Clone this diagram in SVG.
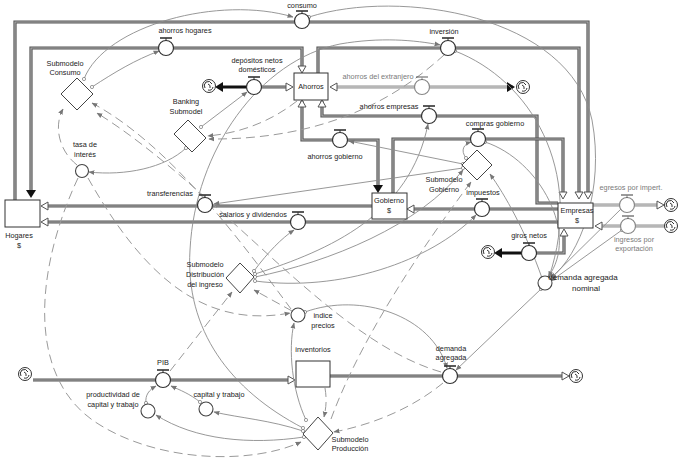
<svg xmlns="http://www.w3.org/2000/svg" xmlns:xlink="http://www.w3.org/1999/xlink" width="680" height="465" viewBox="0 0 680 465">
<style>
.t{font-family:"Liberation Sans",Arial,sans-serif;font-size:7.3px;fill:#222;text-anchor:middle}
.tg{font-family:"Liberation Sans",Arial,sans-serif;font-size:7.3px;fill:#7a7a7a;text-anchor:middle}
.tb{font-family:"Liberation Sans",Arial,sans-serif;font-size:8px;fill:#222;text-anchor:middle}
.po{fill:none;stroke:#555;stroke-width:3.2}
.pi{fill:none;stroke:#b0b0b0;stroke-width:1.1}
.gpo{fill:none;stroke:#8f8f8f;stroke-width:3}
.gpi{fill:none;stroke:#dedede;stroke-width:1}
.blk{fill:none;stroke:#111;stroke-width:3}
.box{fill:#fff;stroke:#333;stroke-width:1}
.valve{fill:#fff;stroke:#333;stroke-width:1.2}
.gvalve{fill:#fff;stroke:#888;stroke-width:1.2}
.aux{fill:#fff;stroke:#444;stroke-width:1.1}
.dia{fill:#fff;stroke:#444;stroke-width:1}
.ha{fill:#fff;stroke:#555;stroke-width:1}
.ba{fill:#111;stroke:none}
.c{fill:none;stroke:#8c8c8c;stroke-width:0.9;marker-end:url(#arr);marker-start:url(#tail)}
.d{fill:none;stroke:#9a9a9a;stroke-width:1;stroke-dasharray:9 5;marker-end:url(#arr)}
.hnd{stroke:#333;stroke-width:1.6}
.hnds{stroke:#333;stroke-width:1}
</style>
<defs>
<marker id="arr" viewBox="0 0 10 10" refX="9" refY="5" markerWidth="6" markerHeight="6" orient="auto" markerUnits="userSpaceOnUse">
<path d="M0,1 L10,5 L0,9 Z" fill="#777"/>
</marker>
<marker id="tail" viewBox="0 0 10 10" refX="5" refY="5" markerWidth="4.5" markerHeight="4.5" markerUnits="userSpaceOnUse">
<circle cx="5" cy="5" r="3.6" fill="#fff" stroke="#777" stroke-width="1.6"/>
</marker>
<path id="ha" d="M0,0 L-7,-4 L-7,4 Z"/>
<path id="ba" d="M0,0 L-8,-5 L-8,5 Z"/>
<g id="cloud">
<circle r="6.5" fill="#fff" stroke="#333" stroke-width="1"/>
<path d="M-3,-4 Q1,-6 3,-2 M4,1 Q3,5 -1,4 M-4,2 Q-6,-1 -3,-4 M-1,-2 Q2,-1 1,2" fill="none" stroke="#333" stroke-width="1"/>
</g>
<g id="hdl">
<line x1="-6" y1="-10" x2="6" y2="-10" class="hnd"/>
<line x1="0" y1="-10" x2="0" y2="-7" class="hnds"/>
</g>
</defs>
<rect width="680" height="465" fill="#fff"/>

<g id="pipes">
<path class="po" d="M15,200 V22 H588 V197"/><path class="pi" d="M15,200 V22 H588 V197"/>
<path class="po" d="M31,192 V48 H302 V71"/><path class="pi" d="M31,192 V48 H302 V71"/>
<path class="po" d="M318,73 V48 H579 V197"/><path class="pi" d="M318,73 V48 H579 V197"/>
<path class="po" d="M558,203 H537 V116 H322 V101"/><path class="pi" d="M558,203 H537 V116 H322 V101"/>
<path class="po" d="M378,188 V140 H302 V101"/><path class="pi" d="M378,188 V140 H302 V101"/>
<path class="po" d="M393,193 V139 H563 V197"/><path class="pi" d="M393,193 V139 H563 V197"/>
<path class="po" d="M247,87 H291"/><path class="pi" d="M247,87 H291"/>
<path class="blk" d="M218,87 H247"/>
<path class="gpo" d="M333,87 H513"/><path class="gpi" d="M333,87 H513"/>
<path class="po" d="M372,206 H43"/><path class="pi" d="M372,206 H43"/>
<path class="po" d="M558,222 H43"/><path class="pi" d="M558,222 H43"/>
<path class="po" d="M558,209 H409"/><path class="pi" d="M558,209 H409"/>
<path class="po" d="M564,231 V253 H530"/><path class="pi" d="M564,231 V253 H530"/>
<path class="blk" d="M530,253 H497"/>
<path class="gpo" d="M593,205 H662"/><path class="gpi" d="M593,205 H662"/>
<path class="gpo" d="M671,226 H597"/><path class="gpi" d="M671,226 H597"/>
<path class="po" d="M33,380 H293"/><path class="pi" d="M33,380 H293"/>
<path class="po" d="M330,376 H567"/><path class="pi" d="M330,376 H567"/>
<use href="#ha" class="ha" transform="translate(588,199) rotate(90)"/>
<use href="#ha" class="ha" transform="translate(579,199) rotate(90)"/>
<use href="#ha" class="ha" transform="translate(563,199) rotate(90)"/>
<use href="#ha" class="ha" transform="translate(302,73) rotate(90)"/>
<use href="#ha" class="ha" transform="translate(293,87)"/>
<use href="#ha" class="ha" transform="translate(330,87) rotate(180)"/>
<use href="#ha" class="ha" transform="translate(302,100) rotate(-90)"/>
<use href="#ha" class="ha" transform="translate(322,100) rotate(-90)"/>
<use href="#ha" class="ha" transform="translate(41,206) rotate(180)"/>
<use href="#ha" class="ha" transform="translate(41,222) rotate(180)"/>
<use href="#ha" class="ha" transform="translate(407,209) rotate(180)"/>
<use href="#ha" class="ha" transform="translate(564,229) rotate(-90)"/>
<use href="#ha" class="ha" transform="translate(664,205)"/>
<use href="#ha" class="ha" transform="translate(595,226) rotate(180)"/>
<use href="#ha" class="ha" transform="translate(295,380)"/>
<use href="#ha" class="ha" transform="translate(569,376)"/>
<use href="#ba" class="ba" transform="translate(31,198) rotate(90)"/>
<use href="#ba" class="ba" transform="translate(378,193) rotate(90)"/>
<use href="#ba" class="ba" transform="translate(215,87) rotate(180)"/>
<use href="#ba" class="ba" transform="translate(515,87)"/>
<use href="#ba" class="ba" transform="translate(494,253) rotate(180)"/>
</g>

<g id="connectors">
<path class="c" d="M84,79 C105,25 220,-5 293,17"/>
<path class="c" d="M92,87 C115,72 135,60 159,51"/>
<path class="c" d="M309,17 C400,-12 570,15 592,120 C605,190 580,255 551,278"/>
<path class="c" d="M455,51 C530,80 585,170 549,277"/>
<path class="c" d="M485,142 C540,160 580,235 548,277"/>
<path class="c" d="M622,208 L550,279"/>
<path class="c" d="M622,230 L551,281"/>
<path class="c" d="M541,289 L456,370"/>
<path class="c" d="M542,278 C525,230 505,195 490,174"/>
<path class="c" d="M466,158 C460,150 464,144 471,142"/>
<path class="c" d="M463,164 L349,141"/>
<path class="c" d="M463,168 L214,204"/>
<path class="c" d="M254,271 C268,252 282,238 294,230"/>
<path class="c" d="M255,274 C330,250 410,215 428,124"/>
<path class="c" d="M255,281 C340,292 430,262 476,215"/>
<path class="c" d="M255,277 C330,262 420,225 463,170"/>
<path class="c" d="M201,127 L247,92"/>
<path class="c" d="M186,148 C165,168 125,176 89,172"/>
<path class="c" d="M303,428 C230,390 185,330 190,250 C195,150 260,60 340,44 C380,37 415,40 440,45"/>
<path class="c" d="M306,420 C292,390 288,350 294,323"/>
<path class="c" d="M305,312 C360,292 432,315 447,368"/>
<path class="c" d="M303,431 C270,420 240,418 214,412"/>
<path class="c" d="M304,437 C250,445 195,440 156,415"/>
<path class="c" d="M200,402 C190,394 180,390 171,386"/>
<path class="c" d="M146,403 C145,395 149,390 156,386"/>
<path class="d" d="M77,165 C58,150 54,125 63,109"/>
<path class="d" d="M78,178 C35,270 25,380 100,425 C160,462 250,465 301,442"/>
<path class="d" d="M88,178 C140,270 200,330 290,313"/>
<path class="d" d="M291,309 C240,240 170,145 92,103"/>
<path class="d" d="M441,372 C330,340 220,190 97,113"/>
<path class="d" d="M297,101 C270,122 240,133 208,136"/>
<path class="d" d="M444,55 C400,95 330,140 209,139"/>
<path class="d" d="M170,371 L232,292"/>
<path class="d" d="M292,311 L254,290"/>
<path class="d" d="M443,383 C410,410 370,425 334,432"/>
<path class="d" d="M325,388 C327,400 326,408 324,417"/>
<path class="d" d="M331,419 C360,340 420,250 471,182"/>
</g>

<g id="hogares"><rect class="box" x="5" y="200" width="35" height="27"/><text class="t" x="19" y="238">Hogares</text><text class="t" x="19" y="248">$</text></g>
<g id="ahorros"><rect class="box" x="294" y="73" width="34" height="27"/><text class="t" x="311" y="89">Ahorros</text></g>
<g id="gobierno"><rect class="box" x="372" y="193" width="35" height="26"/><text class="t" x="389" y="203">Gobierno</text><text class="t" x="389" y="213">$</text></g>
<g id="empresas"><rect class="box" x="558" y="203" width="35" height="25"/><text class="t" x="577" y="213">Empresas</text><text class="t" x="577" y="223">$</text></g>
<g id="inventorios"><rect class="box" x="296" y="361" width="34" height="26"/><text class="t" x="313" y="352">inventorios</text></g>

<g id="consumo"><circle class="valve" cx="302" cy="21" r="7.5"/><use href="#hdl" x="302" y="21"/><text class="t" x="302" y="8">consumo</text></g>
<g id="ahorros-hogares"><circle class="valve" cx="166" cy="48" r="7.5"/><use href="#hdl" x="166" y="48"/><text class="t" x="185" y="33">ahorros hogares</text></g>
<g id="depositos"><circle class="valve" cx="254" cy="87" r="7.5"/><use href="#hdl" x="254" y="87"/><text class="t" x="257" y="63">depósitos netos</text><text class="t" x="257" y="72">domésticos</text></g>
<g id="inversion"><circle class="valve" cx="448" cy="48" r="7.5"/><use href="#hdl" x="448" y="48"/><text class="t" x="444" y="34">inversión</text></g>
<g id="ahorros-extranjero"><circle class="gvalve" cx="422" cy="87" r="7.5"/><use href="#hdl" x="422" y="87" opacity="0.5"/><text class="tg" x="378" y="79">ahorros del extranjero</text></g>
<g id="ahorros-empresas"><circle class="valve" cx="429" cy="116" r="7.5"/><use href="#hdl" x="429" y="116"/><text class="t" x="389" y="109">ahorros empresas</text></g>
<g id="ahorros-gobierno"><circle class="valve" cx="340" cy="140" r="7.5"/><use href="#hdl" x="340" y="140"/><text class="t" x="335" y="159">ahorros gobierno</text></g>
<g id="compras-gobierno"><circle class="valve" cx="478" cy="139" r="7.5"/><use href="#hdl" x="478" y="139"/><text class="t" x="495" y="126">compras gobierno</text></g>
<g id="transferencias"><circle class="valve" cx="205" cy="205" r="7.5"/><use href="#hdl" x="205" y="205"/><text class="t" x="170" y="196">transferencias</text></g>
<g id="salarios"><circle class="valve" cx="298" cy="222" r="7.5"/><use href="#hdl" x="298" y="222"/><text class="t" x="253" y="217">salarios y dividendos</text></g>
<g id="impuestos"><circle class="valve" cx="482" cy="209" r="7.5"/><use href="#hdl" x="482" y="209"/><text class="t" x="483" y="195">impuestos</text></g>
<g id="giros-netos"><circle class="valve" cx="529" cy="253" r="7.5"/><use href="#hdl" x="529" y="253"/><text class="t" x="529" y="238">giros netos</text></g>
<g id="egresos"><circle class="gvalve" cx="627" cy="205" r="7.5"/><use href="#hdl" x="627" y="205" opacity="0.6"/><text class="tg" x="631" y="190">egresos por impert.</text></g>
<g id="ingresos"><circle class="gvalve" cx="628" cy="226" r="7.5"/><use href="#hdl" x="628" y="226" opacity="0.6"/><text class="tg" x="634" y="242">ingresos por</text><text class="tg" x="634" y="251">exportación</text></g>
<g id="pib"><circle class="valve" cx="163" cy="380" r="7.5"/><use href="#hdl" x="163" y="380"/><text class="t" x="163" y="365">PIB</text></g>
<g id="demanda-agregada"><circle class="valve" cx="450" cy="376" r="7.5"/><use href="#hdl" x="450" y="376"/><text class="t" x="451" y="351">demanda</text><text class="t" x="451" y="360">agregada</text></g>

<g id="tasa-interes"><circle class="aux" cx="82" cy="171" r="6.5"/><text class="t" x="85" y="147">tasa de</text><text class="t" x="85" y="157">interés</text></g>
<g id="indice-precios"><circle class="aux" cx="298" cy="315" r="7"/><text class="t" x="323" y="318">indice</text><text class="t" x="323" y="328">precios</text></g>
<g id="productividad"><circle class="aux" cx="148" cy="411" r="7"/><text class="t" x="113" y="397">productividad de</text><text class="t" x="113" y="407">capital y trabajo</text></g>
<g id="capital-trabajo"><circle class="aux" cx="206" cy="409" r="7"/><text class="t" x="219" y="397">capital y trabajo</text></g>
<g id="demanda-nominal"><circle class="aux" cx="545" cy="283" r="7"/><text class="tb" x="583" y="280">demanda agregada</text><text class="tb" x="586" y="291">nominal</text></g>

<g id="sub-consumo"><polygon class="dia" points="61,94 77,78 93,94 77,110"/><text class="t" x="65" y="66">Submodelo</text><text class="t" x="65" y="75">Consumo</text></g>
<g id="sub-banking"><polygon class="dia" points="174,134 188,120 206,138 192,152"/><text class="t" x="186" y="104">Banking</text><text class="t" x="186" y="114">Submodel</text></g>
<g id="sub-gobierno"><polygon class="dia" points="462,165 477,150 492,165 477,180"/><text class="t" x="444" y="182">Submodelo</text><text class="t" x="444" y="192">Gobierno</text></g>
<g id="sub-distribucion"><polygon class="dia" points="226,278 240,263 254,277 240,293"/><text class="t" x="205" y="267">Submodelo</text><text class="t" x="205" y="277">Distribución</text><text class="t" x="205" y="287">del ingreso</text></g>
<g id="sub-produccion"><polygon class="dia" points="303,434 318,417 333,433 318,450"/><text class="t" x="350" y="442">Submodelo</text><text class="t" x="350" y="451">Producción</text></g>

<g id="clouds">
<use href="#cloud" x="209" y="86"/>
<use href="#cloud" x="523" y="87"/>
<use href="#cloud" x="488" y="252"/>
<use href="#cloud" x="671" y="205"/>
<use href="#cloud" x="671" y="226"/>
<use href="#cloud" x="25" y="374"/>
<use href="#cloud" x="576" y="376"/>
</g>
</svg>
